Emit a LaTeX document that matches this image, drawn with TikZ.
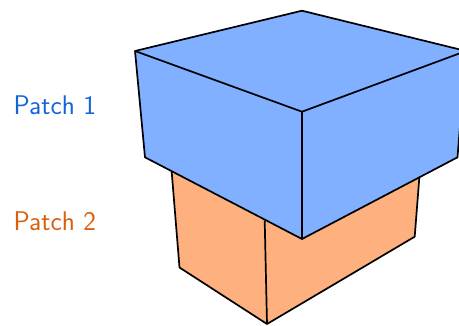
\documentclass[tikz,border=0pt]{standalone}
\usetikzlibrary{positioning}
\definecolor{cPatchA}{HTML}{80B0FF}
\definecolor{cPatchAB}{HTML}{1565D8}
\definecolor{cPatchB}{HTML}{FFB07F}
\definecolor{cPatchBB}{HTML}{D95F0E}
\begin{document}
\begin{tikzpicture}[
  x=1pt, y=-1pt,
  face/.style={draw=black, line width=1.7pt, line join=round},
  ttl/.style={font=\sffamily\fontsize{27}{29}\selectfont, anchor=west, inner sep=0pt}
]
\useasboundingbox (0,0) rectangle (459,325);

% PATCH 2
\fill[cPatchB] (171.7,172) -- (264.7,220.5) -- (302,239) -- (419.3,178) -- (414.7,236.7) -- (267,324) -- (179.5,267.5) -- cycle;
\draw[face] (171.7,172) -- (179.5,267.5) -- (267,324) -- (414.7,236.7) -- (419.3,178);
\draw[face] (264.7,220.5) -- (267,324);

% PATCH 1
\draw[face, fill=cPatchA] (135,51) -- (302,10.7) -- (466,51) -- (457.5,157.3) -- (302,239) -- (145,157.3) -- cycle;
\draw[face] (135,51) -- (302,111.7) -- (466,51);
\draw[face] (302,111.7) -- (302,239);

% LABELS
\node[ttl, text=cPatchAB] (lbl1) at (13.5,105) {Patch 1};
\node[ttl, text=cPatchBB] (lbl2) at (13.5,221) {Patch 2};

\end{tikzpicture}
\end{document}
